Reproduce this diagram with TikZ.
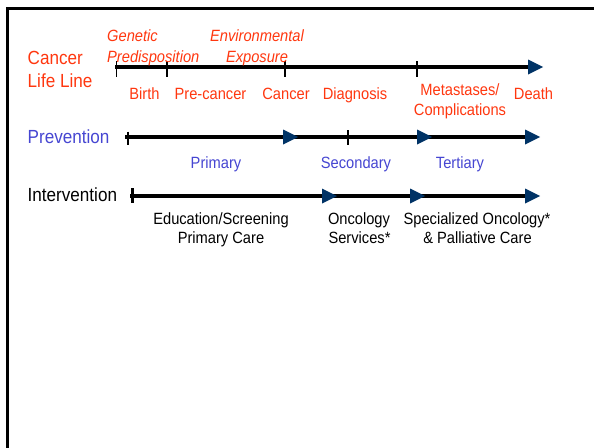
\documentclass[tikz,border=0pt]{standalone}
\usepackage{fontspec}
\setmainfont{Liberation Sans}[FakeStretch=0.9]
\usetikzlibrary{arrows.meta}
\definecolor{lifered}{RGB}{255,55,15}
\definecolor{prevblue}{RGB}{70,70,210}
\definecolor{navytip}{RGB}{0,51,102}
\begin{document}
\begin{tikzpicture}[x=1pt,y=-1pt,
  frameline/.style={line width=3pt,black},
  timeline/.style={line width=4pt,black},
  headtip/.style={-{Triangle[length=15pt,width=15pt,line width=0pt,color=navytip]}},
  tickmark/.style={line width=1.2pt,black},
  bigtick/.style={line width=2.2pt,black},
  rowlabel/.style={font=\fontsize{19}{22}\selectfont,inner sep=0pt,anchor=base west},
  lbl/.style={font=\fontsize{16.3}{19}\selectfont,inner sep=0pt,anchor=base},
  itlbl/.style={font=\fontsize{16.3}{19}\selectfont\itshape,inner sep=0pt,anchor=base},
  redt/.style={text=lifered},
  bluet/.style={text=prevblue},
  blackt/.style={text=black}]
\useasboundingbox (0,0) rectangle (594,447);
\fill[white] (0,0) rectangle (594,447);
% frame
\coordinate (fb) at (7.5,448);
\coordinate (fc) at (7.5,8.7);
\coordinate (fr) at (595,8.7);
\draw[frameline] (fb) -- (fc) -- (fr);

% ---------- Cancer life line ----------
\node[rowlabel,redt] (cll1) at (27.5,64.5) {Cancer};
\node[rowlabel,redt] (cll2) at (27.5,87) {Life Line};
\coordinate (L0) at (115,67);
\coordinate (L1) at (543,67);
\draw[timeline,headtip] (L0) -- (L1);
\coordinate (lt1a) at (116.5,61); \coordinate (lt1b) at (116.5,77);
\coordinate (lt2a) at (167,61);   \coordinate (lt2b) at (167,77);
\coordinate (lt3a) at (285,61);   \coordinate (lt3b) at (285,77);
\coordinate (lt4a) at (417,61);   \coordinate (lt4b) at (417,77);
\draw[tickmark] (lt1a) -- (lt1b);
\draw[bigtick] (lt2a) -- (lt2b);
\draw[tickmark] (lt3a) -- (lt3b);
\draw[tickmark] (lt4a) -- (lt4b);

\node[itlbl,redt,anchor=base west] (gen1) at (107,41) {Genetic};
\node[itlbl,redt,anchor=base west] (gen2) at (107,62) {Predisposition};
\node[itlbl,redt] (env1) at (257,41) {Environmental};
\node[itlbl,redt] (env2) at (257,62) {Exposure};

\node[lbl,redt] (birth) at (144.5,99.5) {Birth};
\node[lbl,redt] (precancer) at (210.5,99.5) {Pre-cancer};
\node[lbl,redt] (cancer) at (286,99.5) {Cancer};
\node[lbl,redt] (diag) at (355,99.5) {Diagnosis};
\node[lbl,redt] (meta1) at (460,95) {Metastases/};
\node[lbl,redt] (meta2) at (460,115) {Complications};
\node[lbl,redt] (death) at (533.5,99.5) {Death};

% ---------- Prevention ----------
\node[rowlabel,bluet] (prev) at (27.5,143) {Prevention};
\coordinate (P0) at (125,137);
\coordinate (P1) at (298,137);
\coordinate (P2) at (432,137);
\coordinate (P3) at (540,137);
\draw[timeline] (P0) -- (P2);
\draw[timeline,headtip] (P0) -- (P1);
\draw[timeline,headtip] (P1) -- (P2);
\draw[timeline,headtip] (P2) -- (P3);
\coordinate (pt1a) at (128,131.5); \coordinate (pt1b) at (128,145);
\coordinate (pt2a) at (348,130);   \coordinate (pt2b) at (348,145);
\draw[tickmark] (pt1a) -- (pt1b);
\draw[tickmark] (pt2a) -- (pt2b);
\node[lbl,bluet] (primary) at (216,168) {Primary};
\node[lbl,bluet] (secondary) at (356,168) {Secondary};
\node[lbl,bluet] (tertiary) at (460,168) {Tertiary};

% ---------- Intervention ----------
\node[rowlabel,blackt] (interv) at (27.5,201.5) {Intervention};
\coordinate (I0) at (130,196);
\coordinate (I1) at (337,196);
\coordinate (I2) at (425,196);
\coordinate (I3) at (540,196);
\draw[timeline] (I0) -- (I2);
\draw[timeline,headtip] (I0) -- (I1);
\draw[timeline,headtip] (I1) -- (I2);
\draw[timeline,headtip] (I2) -- (I3);
\coordinate (it1a) at (132.5,188); \coordinate (it1b) at (132.5,203);
\draw[bigtick] (it1a) -- (it1b);
\node[lbl,blackt] (edu1) at (221,224) {Education/Screening};
\node[lbl,blackt] (edu2) at (221,243) {Primary Care};
\node[lbl,blackt] (onc1) at (359,224) {Oncology};
\node[lbl,blackt] (onc2) at (359.5,243) {Services*};
\node[lbl,blackt] (spec1) at (477,224) {Specialized Oncology*};
\node[lbl,blackt] (spec2) at (477.5,243) {\& Palliative Care};
\end{tikzpicture}
\end{document}
